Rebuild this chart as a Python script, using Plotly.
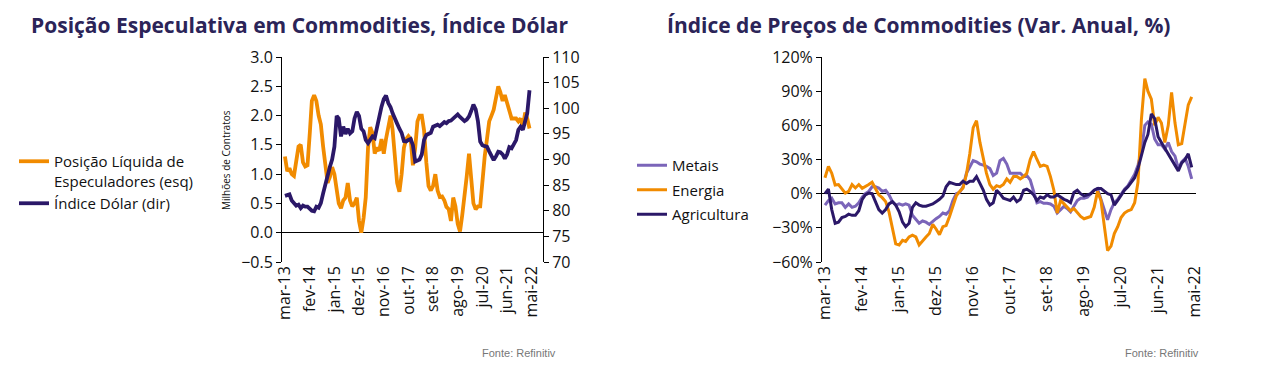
import plotly.graph_objects as go
import pandas as pd

# ---------------- data ----------------
months = pd.date_range("2013-03-01", periods=110, freq="MS")
tick_dates = pd.date_range("2013-03-01", periods=11, freq="11MS")
tick_labels = ["mar-13", "fev-14", "jan-15", "dez-15", "nov-16", "out-17",
               "set-18", "ago-19", "jul-20", "jun-21", "mai-22"]

# Posição Líquida de Especuladores (milhões de contratos, eixo esq.)
posicao_liquida = [
    1.3, 1.05, 1.1, 1.0, 0.97, 1.2, 1.47, 1.5, 1.2, 1.13,
    1.15, 1.7, 2.25, 2.35, 2.25, 2.0, 1.85, 1.47, 1.1, 0.85,
    0.95, 1.12, 1.0, 0.75, 0.5, 0.42, 0.55, 0.6, 0.85, 0.55,
    0.45, 0.5, 0.6, 0.2, 0.0, 0.25, 0.6, 1.45, 1.8, 1.7,
    1.35, 1.45, 1.4, 1.6, 1.35, 1.6, 1.85, 2.0, 1.75, 1.2,
    0.85, 0.7, 1.0, 1.45, 1.6, 1.65, 1.6, 1.15, 1.45, 1.9,
    2.0, 2.0, 1.75, 1.2, 0.8, 0.72, 0.8, 1.0, 0.72, 0.61,
    0.62, 0.55, 0.44, 0.4, 0.2, 0.6, 0.45, 0.15, 0.02, 0.3,
    0.6, 0.96, 1.35, 0.8, 0.5, 0.4, 0.45, 0.45, 0.9, 1.3,
    1.6, 1.9, 2.0, 2.1, 2.3, 2.5, 2.4, 2.25, 2.35, 2.2,
    2.05, 1.95, 1.95, 1.95, 1.9, 1.95, 1.8, 2.05, 1.95, 1.78,
]

# Índice Dólar (eixo dir.)
indice_dolar = [
    82.9, 83.0, 83.2, 82.0, 81.5, 81.0, 81.2, 80.5, 81.0, 80.8,
    80.8, 80.4, 80.0, 79.9, 80.8, 80.6, 81.5, 83.4, 85.3, 86.5,
    88.6, 90.0, 92.5, 98.5, 98.0, 94.5, 96.4, 95.0, 96.0, 95.1,
    95.5, 98.0, 99.3, 98.5, 96.0, 95.5, 93.8, 93.2, 94.0, 94.5,
    94.2, 96.5, 98.0, 100.3, 101.8, 102.5, 101.0, 100.2, 99.0, 97.8,
    97.0, 96.0, 95.2, 93.6, 93.5, 93.8, 94.0, 92.8, 89.6, 89.8,
    90.0, 91.0, 93.8, 94.8, 95.0, 95.2, 96.4, 96.6, 96.8, 96.5,
    96.8, 97.3, 97.1, 97.5, 97.6, 98.0, 98.5, 98.8, 98.3, 98.0,
    97.5, 97.8, 98.4, 99.5, 100.7, 99.8, 97.5, 93.5, 92.8, 92.6,
    92.5, 91.6, 90.5, 89.9, 90.6, 91.5, 91.4, 91.0, 90.2, 91.0,
    92.4, 92.2, 93.0, 93.8, 95.8, 96.4, 95.8, 97.4, 99.0, 103.5,
]

# Índice de Preços de Commodities (Var. Anual, %)
metais = [
    -10, -6, -4, -9, -8, -8, -12, -9, -12, -11,
    -8, -3, 0, 2, 6, 6, 5, 2, 3, -1,
    -7, -10, -9, -10, -9, -10, -19, -23, -26, -24,
    -25, -27, -24, -22, -20, -17, -18, -15, -6, 0,
    1, 6, 18, 24, 29, 28, 26, 25, 24, 22,
    16, 18, 29, 31, 26, 18, 18, 18, 18, 15,
    16, 12, 3, -8, -7, -8.5, -8.5, -9, -11, -17,
    -14, -11, -13, -16, -11, -6, -4, -4, -3, 0,
    3, 4.5, -5, -16, -23, -14, -8, -5, 0, 4,
    7, 12, 17, 25, 37, 60, 63, 61, 48, 43,
    43, 39, 45, 37, 33, 22, 28, 31, 24, 13,
]
energia = [
    14, 24, 18, 7.6, 8, 4, 0.5, 2, 8, 5,
    8, 4.7, 6, 8, 10, 4.5, -1, -3.5, -7, -16,
    -32, -44, -45, -41, -42, -38, -36.5, -38, -45, -41,
    -38, -35, -27, -31, -36, -29, -28, -20, -10, -2,
    2, 5, 17, 35, 58, 64, 45, 32, 18, 8,
    4, 7, 6, 8, 13, 10, 15, 15, 13, 15,
    18, 30, 37, 30, 24, 25, 24, 15, 3, -17,
    -6, -9, -12, -15, -13, -17, -20, -22, -21, -20,
    -12, 2, -6, -27, -50, -46, -35, -29, -21, -17,
    -15, -14, -8, 10, 65, 101, 90, 83, 60, 67,
    62, 45, 60, 89, 62, 43, 44, 62, 78, 85,
]
agricultura = [
    0, 4, -14, -26, -25, -21, -20, -18, -19, -19,
    -15, -5, -1, 0.5, 0, -8, -14, -17, -14, -9,
    -7, -10, -16, -25, -29, -26, -12, -8, -10, -11,
    -11, -10, -9, -7, -5, -2, 6, 10, 9, 8,
    8, 11, 9, 11, 11, 15, 9, 3, -5, -10,
    -8, 3, 0, -4, -5, -6, -3, -7, -5, 3,
    4, 2, -1, -6, -3, -4, -1, -3, -3, -1,
    -3, -5, -6, -8, 1, 3, 0, -2, -1, 0,
    3, 4.5, 4.5, 2, 0, -1, -10, -6, -2, 3,
    6, 10, 14, 22, 33, 45, 52, 70, 66, 50,
    45, 40, 35, 30, 24, 20, 27, 30, 35, 23,
]

# ---------------- style ----------------
ORANGE = "#F18B00"
DARK = "#2B1868"
LIGHT = "#7B65B9"
NAVY = "#2B2458"
BASE_FONT = "Open Sans, Lato, Arial, sans-serif"
OFF = 8                      # page body margin
W, H = 1265 - OFF, 382 - OFF


def px(xp):
    return (xp - OFF) / W


def py(yp):
    return 1 - (yp - OFF) / H


fig = go.Figure()

fig.add_trace(go.Scatter(x=months, y=posicao_liquida, mode="lines",
                         name="Posição Líquida de<br>Especuladores (esq)",
                         line=dict(color=ORANGE, width=3.8),
                         xaxis="x", yaxis="y", legend="legend", legendgroup="a"))
fig.add_trace(go.Scatter(x=months, y=indice_dolar, mode="lines",
                         name="Índice Dólar (dir)",
                         line=dict(color=DARK, width=3.8),
                         xaxis="x", yaxis="y2", legend="legend", legendgroup="b"))

fig.add_trace(go.Scatter(x=months, y=metais, mode="lines", name="Metais",
                         line=dict(color=LIGHT, width=3),
                         xaxis="x2", yaxis="y3", legend="legend2", legendgroup="c"))
fig.add_trace(go.Scatter(x=months, y=energia, mode="lines", name="Energia",
                         line=dict(color=ORANGE, width=3),
                         xaxis="x2", yaxis="y3", legend="legend2", legendgroup="d"))
fig.add_trace(go.Scatter(x=months, y=agricultura, mode="lines", name="Agricultura",
                         line=dict(color=DARK, width=3),
                         xaxis="x2", yaxis="y3", legend="legend2", legendgroup="e"))

start = months[0]
left_range = [start - pd.Timedelta(days=40), start + pd.DateOffset(months=115)]
right_range = [start - pd.Timedelta(days=27), start + pd.DateOffset(months=110) + pd.Timedelta(days=9)]

y_top = py(57)
y_bot = py(262)

xcommon = dict(showline=False, showgrid=False, zeroline=False, ticks="",
               tickangle=-90, tickmode="array", tickvals=list(tick_dates),
               ticktext=tick_labels, tickfont=dict(size=16, color="#111"),
               automargin=False)
ycommon = dict(showline=True, linecolor="#000", linewidth=1, ticks="outside",
               ticklen=5, tickcolor="#000", showgrid=False,
               tickfont=dict(size=16, color="#111"), automargin=False)

fonte_font = dict(size=11, color="#777", family="Liberation Sans Narrow, Arial Narrow, sans-serif")

fig.update_layout(
    width=W, height=H, autosize=False,
    margin=dict(l=0, r=0, t=0, b=0, pad=0),
    paper_bgcolor="white", plot_bgcolor="white",
    font=dict(family=BASE_FONT, color="#111"),
    xaxis=dict(domain=[px(282), px(543)], range=left_range, anchor="y", **xcommon),
    yaxis=dict(domain=[y_bot, y_top], range=[-0.5, 3.0], dtick=0.5, tickformat=".1f",
               zeroline=True, zerolinecolor="#000", zerolinewidth=1, anchor="x", **ycommon),
    yaxis2=dict(range=[70, 110], dtick=5, overlaying="y", side="right", anchor="x",
                zeroline=False, **ycommon),
    xaxis2=dict(domain=[px(822), px(1196)], range=right_range, anchor="y3", **xcommon),
    yaxis3=dict(domain=[y_bot, y_top], range=[-60, 120], dtick=30, ticksuffix="%",
                zeroline=True, zerolinecolor="#000", zerolinewidth=1, anchor="x2", **ycommon),
    legend=dict(x=px(14), y=py(145), xanchor="left", yanchor="top",
                font=dict(size=15, color="#111"), bgcolor="rgba(0,0,0,0)",
                valign="top", tracegroupgap=0, itemwidth=30),
    legend2=dict(x=px(632), y=py(149), xanchor="left", yanchor="top",
                 font=dict(size=15, color="#111"), bgcolor="rgba(0,0,0,0)",
                 tracegroupgap=2, itemwidth=30),
    annotations=[
        dict(text="<b>Posição Especulativa em Commodities, Índice Dólar</b>",
             x=px(300), y=py(8.5), xref="paper", yref="paper", showarrow=False,
             xanchor="center", yanchor="top", font=dict(size=21, color=NAVY)),
        dict(text="<b>Índice de Preços de Commodities (Var. Anual, %)</b>",
             x=px(918), y=py(8.5), xref="paper", yref="paper", showarrow=False,
             xanchor="center", yanchor="top", font=dict(size=21, color=NAVY)),
        dict(text="Milhões de Contratos", textangle=-90,
             x=px(226), y=py(160), xref="paper", yref="paper", showarrow=False,
             xanchor="center", yanchor="middle", font=dict(size=10, color="#111")),
        dict(text="Fonte: Refinitiv", x=px(558), y=py(353), xref="paper", yref="paper",
             showarrow=False, xanchor="right", yanchor="middle", font=fonte_font),
        dict(text="Fonte: Refinitiv", x=px(1201), y=py(353), xref="paper", yref="paper",
             showarrow=False, xanchor="right", yanchor="middle", font=fonte_font),
    ],
)

fig.write_html("out.html")
